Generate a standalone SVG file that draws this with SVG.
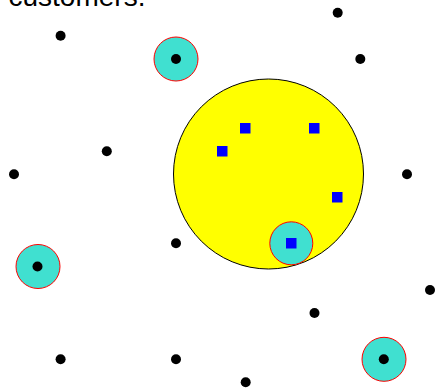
<svg xmlns="http://www.w3.org/2000/svg" width="436" height="388" viewBox="0 0 436 388">
<style>
.t{font-family:"Liberation Sans",Arial,sans-serif;font-size:28px;fill:#000}
.zone{fill:#ffff00;stroke:#000;stroke-width:1}
.cov{fill:#40e0d0;stroke:#ff0000;stroke-width:1}
.dot{fill:#000}
.sq{fill:#0000ff}
</style>
<rect width="436" height="388" fill="#fff"/>
<text class="t" x="8.5" y="6">customers.</text>
<g id="zone"><circle class="zone" cx="268.5" cy="174" r="95"/></g>
<g id="coverage">
<circle class="cov" cx="176" cy="59" r="22"/>
<circle class="cov" cx="38" cy="266.5" r="22"/>
<circle class="cov" cx="291.3" cy="243.3" r="21.5"/>
<circle class="cov" cx="384" cy="359.3" r="22"/>
</g>
<g id="facilities">
<rect class="sq" x="240" y="123" width="10.5" height="10.5"/>
<rect class="sq" x="309" y="123" width="10.5" height="10.5"/>
<rect class="sq" x="217" y="146" width="10.5" height="10.5"/>
<rect class="sq" x="332" y="192" width="10.5" height="10.5"/>
<rect class="sq" x="286" y="238" width="10.5" height="10.5"/>
</g>
<g id="customers">
<circle class="dot" cx="337.7" cy="12.7" r="5"/>
<circle class="dot" cx="60.6" cy="35.8" r="5"/>
<circle class="dot" cx="176" cy="59" r="5"/>
<circle class="dot" cx="360.3" cy="59" r="5"/>
<circle class="dot" cx="106.8" cy="151.3" r="5"/>
<circle class="dot" cx="14" cy="174.3" r="5"/>
<circle class="dot" cx="407" cy="174.3" r="5"/>
<circle class="dot" cx="176" cy="243.3" r="5"/>
<circle class="dot" cx="37.5" cy="266.5" r="5"/>
<circle class="dot" cx="430" cy="290" r="5"/>
<circle class="dot" cx="314.5" cy="313" r="5"/>
<circle class="dot" cx="60.6" cy="359.3" r="5"/>
<circle class="dot" cx="176" cy="359.3" r="5"/>
<circle class="dot" cx="383.8" cy="359.3" r="5"/>
<circle class="dot" cx="245.7" cy="382.3" r="5"/>
</g>
</svg>
